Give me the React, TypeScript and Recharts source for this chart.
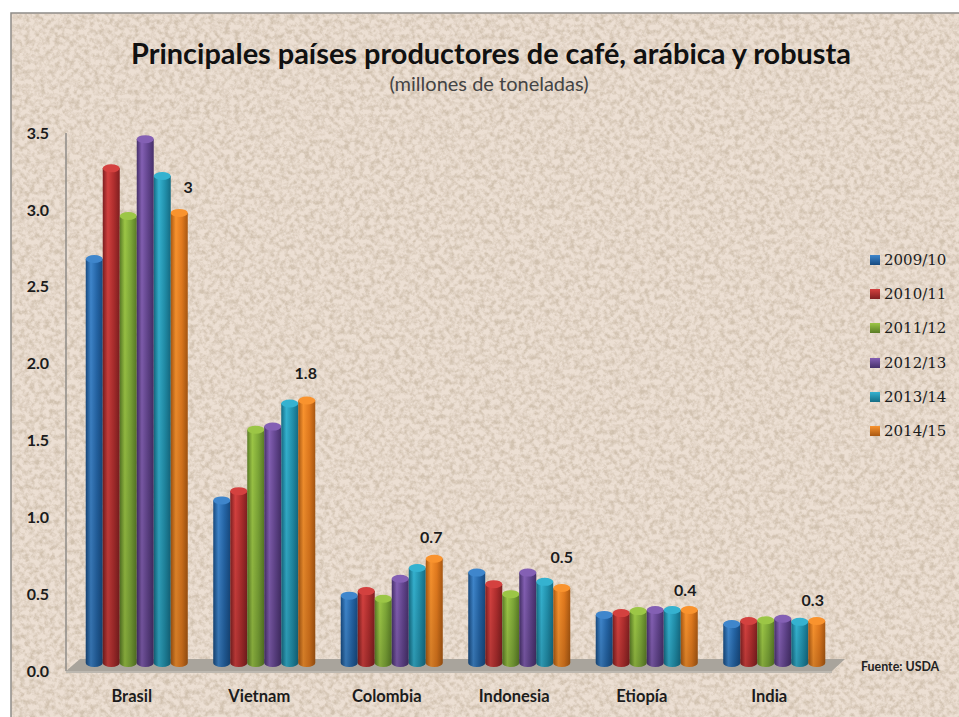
import { Bar, BarChart, LabelList, Legend, XAxis, YAxis } from "recharts";

const paises = ["Brasil", "Vietnam", "Colombia", "Indonesia", "Etiopía", "India"];
const campanas = ["2009/10", "2010/11", "2011/12", "2012/13", "2013/14", "2014/15"];

const v2009 = [2.68, 1.11, 0.49, 0.64, 0.365, 0.305];
const v2010 = [3.27, 1.17, 0.52, 0.565, 0.377, 0.325];
const v2011 = [2.96, 1.57, 0.47, 0.5, 0.39, 0.33];
const v2012 = [3.46, 1.59, 0.6, 0.64, 0.397, 0.34];
const v2013 = [3.22, 1.74, 0.67, 0.58, 0.397, 0.32];
const v2014 = [2.98, 1.76, 0.73, 0.54, 0.397, 0.325];
const series = [v2009, v2010, v2011, v2012, v2013, v2014];

const etiquetas = ["3", "1.8", "0.7", "0.5", "0.4", "0.3"];
const ticks = [0, 0.5, 1, 1.5, 2, 2.5, 3, 3.5];

// light, mid, dark for the cylinder shading
const colores = [
  ["#3f86cc", "#2566a8", "#174a80"],
  ["#d4413f", "#b02e2e", "#7f1f20"],
  ["#9cc646", "#7ea838", "#5a7c26"],
  ["#8460b4", "#644690", "#46306a"],
  ["#35b2d0", "#2292ae", "#156c84"],
  ["#f9932e", "#e27a1e", "#a95812"],
];

const data = paises.map((pais, i) => {
  const row: Record<string, string | number> = { pais };
  campanas.forEach((c, s) => {
    row[c] = series[s][i];
  });
  return row;
});

function Cilindro(props: any) {
  const { x, y, width, height, idx } = props;
  const ry = 4;
  const cx = x + width / 2;
  const bottom = y + height;
  const cuerpo = `M${x},${y + ry} L${x},${bottom - ry} A${width / 2},${ry} 0 0 0 ${x + width},${bottom - ry} L${x + width},${y + ry} Z`;
  return (
    <g>
      <path d={cuerpo} fill={`url(#cil${idx})`} />
      <path d={cuerpo} fill="url(#sombra)" />
      <ellipse cx={cx} cy={y + ry} rx={width / 2} ry={ry} fill={colores[idx][0]} />
    </g>
  );
}

// the labels sit a little off the bar tops in the original
function EtiquetaFinal(props: any) {
  const { x, y, width, index } = props;
  const dx = [9, -1, -3, 0, -4, -4][index];
  const dy = [-2, -3, 2, -7, 4, 3][index];
  return (
    <text
      x={x + width / 2 + dx}
      y={y - 14 + dy}
      textAnchor="middle"
      fontFamily="Lato"
      fontWeight={700}
      fontSize={16}
      fill="#1c1c1c"
    >
      {etiquetas[index]}
    </text>
  );
}

function Leyenda() {
  return (
    <div style={{ width: 90 }}>
      {campanas.map((c, i) => (
        <div key={c} style={{ display: "flex", alignItems: "center", height: 34.2 }}>
          <span
            style={{
              width: 10,
              height: 10,
              marginRight: 4,
              background: `linear-gradient(${colores[i][0]}, ${colores[i][2]})`,
            }}
          />
          <span style={{ fontFamily: "'DejaVu Serif'", fontSize: 15, color: "#1c1c1c" }}>{c}</span>
        </div>
      ))}
    </div>
  );
}

export default function App() {
  return (
    <div style={{ position: "fixed", left: 0, top: 0, width: 959, height: 717, background: "#fff", overflow: "hidden" }}>
      {/* textured slide background and the floor/wall of the 3D plot */}
      <svg width={959} height={717} style={{ position: "absolute", left: 0, top: 0 }}>
        <filter id="papel" x="0" y="0" width="100%" height="100%" colorInterpolationFilters="sRGB">
          <feTurbulence type="fractalNoise" baseFrequency="0.2" numOctaves={4} seed={7} />
          <feColorMatrix values="0 0 0 0 0.82  0 0 0 0 0.76  0 0 0 0 0.69  2.6 0 0 0 -1.0" />
          <feGaussianBlur stdDeviation={0.7} />
        </filter>
        <rect x={11} y={13} width={960} height={720} fill="#ecdfd3" stroke="#8d8a86" strokeWidth={1.5} />
        <rect x={12} y={14} width={947} height={703} filter="url(#papel)" />
        <polygon points="66,671 80,659 845,659 832,671" fill="#a9a49c" />
        <line x1={66} y1={672} x2={832} y2={672} stroke="#bdb8b0" strokeWidth={2} />
        <line x1={66} y1={133} x2={66} y2={671} stroke="#8f8c88" strokeWidth={1.5} />
        <text x={491} y={64} textAnchor="middle" fontFamily="Lato" fontWeight={700} fontSize={28.9} fill="#111">
          Principales países productores de café, arábica y robusta
        </text>
        <text x={489} y={91} textAnchor="middle" fontFamily="Lato" fontSize={20} fill="#444">
          (millones de toneladas)
        </text>
        <text x={861} y={671} fontFamily="Lato" fontWeight={700} fontSize={12.4} fill="#222">
          Fuente: USDA
        </text>
      </svg>
      <div style={{ position: "absolute", left: 0, top: 0 }}>
        <BarChart
          width={959}
          height={717}
          data={data}
          barCategoryGap="10%"
          barGap={0}
          margin={{ top: 129, right: 31, bottom: 0, left: 13 }}
        >
          <defs>
            {colores.map((c, i) => (
              <linearGradient key={i} id={`cil${i}`} x1="0" y1="0" x2="1" y2="0">
                <stop offset="0%" stopColor={c[2]} />
                <stop offset="30%" stopColor={c[0]} />
                <stop offset="65%" stopColor={c[1]} />
                <stop offset="100%" stopColor={c[2]} />
              </linearGradient>
            ))}
            <linearGradient id="sombra" x1="0" y1="0" x2="0" y2="1">
              <stop offset="0%" stopColor="#000" stopOpacity={0} />
              <stop offset="100%" stopColor="#000" stopOpacity={0.16} />
            </linearGradient>
          </defs>
          <XAxis
            dataKey="pais"
            axisLine={false}
            tickLine={false}
            interval={0}
            tick={{ fontFamily: "Lato", fontWeight: 700, fontSize: 16.5, fill: "#1c1c1c", dx: -5, dy: 15 }}
            height={50}
          />
          <YAxis
            type="number"
            domain={[0, 3.5]}
            ticks={ticks}
            axisLine={false}
            tickLine={false}
            width={60}
            tickFormatter={(v: number) => v.toFixed(1)}
            tick={{ fontFamily: "Lato", fontWeight: 700, fontSize: 16, fill: "#1c1c1c", dx: -16, dy: 4 }}
          />
          <Legend
            layout="vertical"
            align="right"
            verticalAlign="top"
            content={<Leyenda />}
            wrapperStyle={{ position: "absolute", left: 870, top: 243, width: 90 }}
          />
          {campanas.map((c, i) => (
            <Bar
              key={c}
              dataKey={c}
              isAnimationActive={false}
              shape={(p: any) => <Cilindro {...p} idx={i} />}
            >
              {i === 5 && <LabelList dataKey={c} content={<EtiquetaFinal />} />}
            </Bar>
          ))}
        </BarChart>
      </div>
    </div>
  );
}
